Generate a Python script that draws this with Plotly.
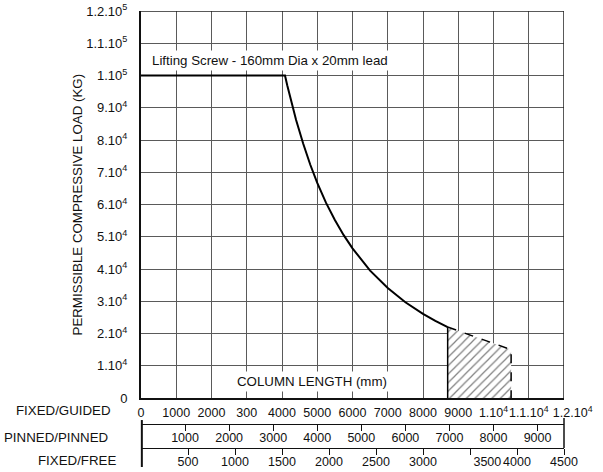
import plotly.graph_objects as go

# ── data ────────────────────────────────────────────────────────────────────
curve_len = [0, 4085, 4150, 4250, 4400, 4600, 4800, 5000, 5250, 5500, 5750, 6000,
             6500, 7000, 7500, 8000, 8350, 8700]
curve_load = [100000, 100000, 96900, 92400, 86200, 78900, 72400, 66700, 60500, 55200,
              50500, 46400, 39500, 34100, 29700, 26100, 23900, 22000]

hatch_len = [8700, 8700, 10500, 10500]
hatch_load = [0, 22000, 15000, 0]

y_vals = [0, 10000, 20000, 30000, 40000, 50000, 60000, 70000, 80000, 90000, 100000, 110000, 120000]
y_text = ["0", "1.10<sup>4</sup>", "2.10<sup>4</sup>", "3.10<sup>4</sup>", "4.10<sup>4</sup>",
          "5.10<sup>4</sup>", "6.10<sup>4</sup>", "7.10<sup>4</sup>", "8.10<sup>4</sup>",
          "9.10<sup>4</sup>", "1.10<sup>5</sup>", "1.1.10<sup>5</sup>", "1.2.10<sup>5</sup>"]

guided_vals = [0, 1000, 2000, 3000, 4000, 5000, 6000, 7000, 8000, 9000, 10000, 11000, 12000]
guided_text = ["0", "1000", "2000", "300", "4000", "5000", "6000", "7000", "8000", "9000",
               "1.10<sup>4</sup>", "1.1.10<sup>4</sup>",
               "\u00a0\u00a0\u00a0\u00a0\u00a01.2.10<sup>4</sup>"]

pinned_vals = [1000, 2000, 3000, 4000, 5000, 6000, 7000, 8000, 9000]
free_vals = [500, 1000, 1500, 2000, 2500, 3000, 3500, 4000, 4500]
free_text = ["500", "1000", "1500", "2000", "2500", "3000",
             "\u00a0" * 10 + "3500", "4000", "4500"]

FONT = "Liberation Sans, Arial, sans-serif"
GRID = "#5a5a5a"
TXT = 13.3

fig = go.Figure()

# hatched zone
fig.add_trace(go.Scatter(
    x=hatch_len, y=hatch_load, mode="lines", fill="toself",
    fillcolor="white",
    fillpattern=dict(shape="/", fgcolor="black", bgcolor="white", size=6, solidity=0.2),
    line=dict(width=0), showlegend=False, hoverinfo="skip",
))
fig.add_trace(go.Scatter(
    x=hatch_len[1:], y=hatch_load[1:], mode="lines",
    line=dict(color="black", width=1.5, dash="dash"), showlegend=False,
))
fig.add_trace(go.Scatter(
    x=hatch_len[:2], y=hatch_load[:2], mode="lines",
    line=dict(color="black", width=1.5), showlegend=False,
))

# load curve
fig.add_trace(go.Scatter(
    x=curve_len, y=curve_load, mode="lines",
    line=dict(color="black", width=2), showlegend=False,
))

# dummy traces so the extra axes are drawn
fig.add_trace(go.Scatter(x=[None], y=[None], xaxis="x2", showlegend=False))
fig.add_trace(go.Scatter(x=[None], y=[None], xaxis="x3", showlegend=False))

Y0 = 0.1144  # bottom of the main plot in paper units

fig.update_layout(
    width=603, height=472,
    paper_bgcolor="white", plot_bgcolor="white",
    margin=dict(l=141, r=39, t=11, b=24, autoexpand=False),
    font=dict(family=FONT, size=12.5, color="#111111"),
    showlegend=False,
    xaxis=dict(
        range=[0, 12000], domain=[0, 1], automargin=False,
        tickvals=guided_vals, ticktext=guided_text, tickangle=0,
        showgrid=True, gridcolor=GRID, gridwidth=1,
        showline=True, linecolor="#111111", linewidth=2,
        ticks="", ticklabelstandoff=2, zeroline=False, ticklabeloverflow="allow",
    ),
    yaxis=dict(
        range=[0, 120000], domain=[Y0, 1], automargin=False,
        tickvals=y_vals, ticktext=y_text, tickfont=dict(size=13),
        showgrid=True, gridcolor=GRID, gridwidth=1,
        showline=True, linecolor="#111111", linewidth=2,
        ticks="", ticklabelstandoff=9, zeroline=False, ticklabeloverflow="allow",
    ),
    xaxis2=dict(
        overlaying="x", anchor="free", position=0.0549, automargin=False,
        range=[0, 9600], tickvals=pinned_vals, tickangle=0,
        showgrid=False, zeroline=False, ticklabeloverflow="allow",
        showline=True, linecolor="#111111", linewidth=1,
        ticks="outside", ticklen=6, tickcolor="#111111", ticklabelstandoff=-4,
    ),
    xaxis3=dict(
        overlaying="x", anchor="free", position=0, automargin=False,
        range=[0, 4500], tickvals=free_vals, ticktext=free_text, tickangle=0,
        showgrid=False, zeroline=False, ticklabeloverflow="allow",
        showline=True, linecolor="#111111", linewidth=1,
        ticks="outside", ticklen=6, tickcolor="#111111", ticklabelstandoff=-4,
    ),
)

# frame top / right, thin
fig.add_shape(type="line", xref="paper", yref="y", x0=0, x1=1, y0=120000, y1=120000,
              line=dict(color="#222222", width=1.5))
fig.add_shape(type="line", xref="x", yref="paper", x0=12000, x1=12000, y0=Y0, y1=1,
              line=dict(color="#222222", width=1.5))

# end bars of the lower scales
fig.add_shape(type="line", xref="paper", yref="paper", x0=0.002, x1=0.002, y0=0.064, y1=-0.0435,
              line=dict(color="#111111", width=2))
fig.add_shape(type="line", xref="paper", yref="paper", x0=1, x1=1, y0=0.0686, y1=0,
              line=dict(color="#111111", width=1.5))

# labels
fig.add_annotation(x=230, y=104800, xref="x", yref="y", xanchor="left", yanchor="middle",
                   text="Lifting Screw - 160mm Dia x 20mm lead", showarrow=False,
                   bgcolor="white", borderpad=2, font=dict(size=TXT))
fig.add_annotation(x=4850, y=5000, xref="x", yref="y", xanchor="center", yanchor="middle",
                   text="COLUMN LENGTH (mm)", showarrow=False, bgcolor="white", borderpad=2,
                   font=dict(size=TXT))
fig.add_annotation(x=-0.149, y=(1 + Y0) / 2, xref="paper", yref="paper", textangle=-90,
                   text="PERMISSIBLE COMPRESSIVE LOAD (KG)", showarrow=False,
                   xanchor="center", yanchor="middle", font=dict(size=TXT))

for label, xp, yp in [("FIXED/GUIDED", -0.066, 0.0847),
                      ("PINNED/PINNED", -0.073, 0.025),
                      ("FIXED/FREE", -0.054, -0.0275)]:
    fig.add_annotation(x=xp, y=yp, xref="paper", yref="paper", text=label,
                       xanchor="right", yanchor="middle", showarrow=False,
                       font=dict(size=TXT))

# the page body has an 8px default margin; drop it so the figure sits at 0,0
fig.write_html("out.html", config={"displayModeBar": False},
               post_script="document.body.style.margin='0';")
